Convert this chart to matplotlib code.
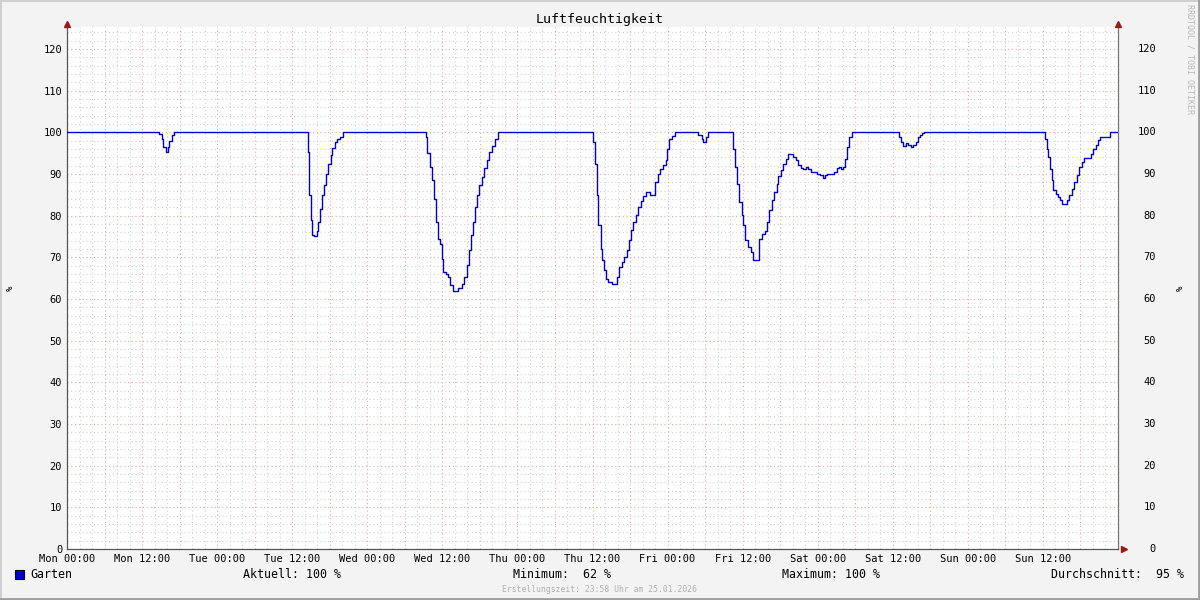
import numpy as np
import matplotlib.pyplot as plt
from matplotlib.patches import Rectangle

# hours since Mon 00:00 and relative humidity (%)
hours = [0, 14.6, 14.75, 15.14, 15.39, 15.78, 16.10, 16.35, 16.74, 17.15,
         38.32, 38.48, 38.64, 38.96, 39.21, 39.53, 39.91, 40.17, 40.44, 40.71,
         41.08, 41.35, 41.67, 42.15, 42.41, 42.84, 43.21, 43.64, 44.17,
         57.23, 57.39, 57.59, 58.02, 58.39, 58.71, 58.98, 59.35, 59.66, 59.89,
         60.15, 60.53, 60.95, 61.22, 61.75, 62.55, 63.09, 63.51, 63.89, 64.26,
         64.58, 64.95, 65.22, 65.58, 65.91, 66.29, 66.66, 67.09, 67.46, 67.98,
         68.41, 68.85,
         83.87, 84.13, 84.40, 84.67, 84.93, 85.31, 85.57, 85.84, 86.11, 86.53,
         87.07, 87.76, 87.96, 88.28, 88.67, 89.08, 89.47, 89.83, 90.15, 90.52,
         90.90, 91.32, 91.70, 92.12, 92.55, 93.19, 93.72, 93.99, 94.42, 94.79,
         95.32, 95.70, 95.96, 96.28, 96.76, 97.19,
         100.38, 100.91, 101.45, 101.71, 102.09, 102.51,
         106.25, 106.51, 106.78, 107.15, 107.47, 107.85, 108.11, 108.38, 108.90,
         109.34, 109.70, 110.50, 110.66, 111.05, 111.57, 111.94, 112.26, 112.64,
         113.01, 113.44, 113.70, 114.08, 114.50, 114.88, 115.30, 115.68, 116.10,
         116.53, 116.90, 117.33, 117.70, 118.08, 118.50, 118.88, 119.41, 119.84,
         120.36, 120.80, 121.16, 121.53, 122.23, 122.60, 123.03, 123.40, 123.67,
         124.09, 124.36, 124.63, 125.00, 125.43,
         132.88, 133.04, 133.31, 133.68, 134.11, 134.48, 134.86, 135.28, 135.66,
         135.98, 136.35, 136.72, 136.99,
         156.06, 156.33, 156.60, 156.86, 157.13, 157.40, 157.66, 158.04, 158.36,
         158.73, 159.00, 159.53, 159.90, 160.22, 160.60, 160.97, 161.40, 161.83,
         162.20, 162.57, 163.26, 163.64, 164.05, 164.48, 164.85, 165.12, 166.45,
         166.72, 168]
humidity = [100, 100, 99.7, 98.3, 96.5, 95.3, 96.5, 97.9, 99.4, 100,
            100, 95.4, 85, 79, 75.3, 75.1, 76.3, 78.5, 81.5, 85,
            87.4, 90, 92.5, 94.6, 96.2, 97.8, 98.5, 99, 100,
            100, 99, 95.1, 91.7, 88.5, 84.1, 78.5, 74.5, 73.3, 69.7,
            66.5, 66.1, 65.3, 63.3, 62, 62.7, 63.7, 65.3, 68.1, 71.7,
            75.3, 78.5, 82.1, 84.9, 87.3, 89.3, 91.4, 93.3, 95.3, 96.7,
            98.5, 100,
            100, 97.7, 92.5, 85, 77.7, 72.1, 69.3, 66.9, 64.7, 64,
            63.5, 63.5, 65.3, 67.7, 68.9, 70.1, 71.7, 74.1, 76.5, 78.5,
            80.1, 82.1, 83.5, 84.7, 85.7, 85, 85, 88.1, 90, 91.3,
            92.2, 93.3, 96.1, 98.5, 99.1, 100,
            100, 99.4, 98.3, 97.8, 99, 100,
            100, 96.1, 91.7, 87.7, 83.3, 80.1, 77.7, 74.1, 72.5,
            71.3, 69.3, 69.3, 74.5, 75.7, 76.3, 78.5, 81.3, 83.7,
            85.7, 87.7, 89.5, 90.9, 92.5, 93.7, 94.7, 94.7, 94.1,
            93.3, 92.2, 91.4, 91.3, 91.7, 91.3, 90.6, 90.5, 89.9,
            89.7, 89.1, 89.7, 89.9, 89.9, 90.5, 91.4, 91.7, 91.3,
            91.7, 93.7, 96.5, 98.9, 100,
            100, 98.9, 97.7, 96.7, 97.5, 97, 96.6, 96.9, 97.8,
            98.9, 99.3, 99.8, 100,
            100, 98.5, 96.1, 94.1, 91.3, 88.5, 86.1, 85.3, 84.5,
            83.7, 82.9, 82.9, 83.7, 84.9, 86.5, 88.1, 89.7, 91.7,
            92.9, 93.9, 93.9, 94.8, 96.1, 97, 98.1, 98.9, 98.9,
            100, 100]

day_names = ["Mon", "Tue", "Wed", "Thu", "Fri", "Sat", "Sun"]
tick_labels = [f"{d} {t}" for d in day_names for t in ("00:00", "12:00")]
y_ticks = list(range(0, 130, 10))

title = "Luftfeuchtigkeit"
legend_name = "Garten"
stats = [("Aktuell: 100 %", 243), ("Minimum:  62 %", 513),
         ("Maximum: 100 %", 782), ("Durchschnitt:  95 %", 1051)]
footer = "Erstellungszeit: 23:58 Uhr am 25.01.2026"

W, H = 1200, 600
plt.rcParams['font.family'] = "DejaVu Sans Mono"


def fx(x):
    return x / W


def fy(y):
    return 1 - y / H


fig = plt.figure(figsize=(12, 6), dpi=100, facecolor="#F3F3F3")

# 3d-ish frame of the canvas
fig.add_artist(plt.Line2D([0, 1], [fy(1), fy(1)], color="#D0D0D0", lw=1.5))
fig.add_artist(plt.Line2D([fx(1), fx(1)], [0, 1], color="#D0D0D0", lw=1.5))
fig.add_artist(plt.Line2D([0, 1], [fy(599), fy(599)], color="#9E9E9E", lw=2))
fig.add_artist(plt.Line2D([fx(1199), fx(1199)], [0, 1], color="#9E9E9E", lw=2))

left, right, bottom, top = 67, 1118, 549, 27
ax = fig.add_axes([fx(left), fy(bottom), fx(right - left), fy(top) - fy(bottom)])
ax.set_facecolor("white")

ymax = 125.3
ax.set_xlim(0, 168)
ax.set_ylim(0, ymax)

# grid: minor gray, major red, both dotted
dots = (0, (1, 2.4))
for h in np.arange(0, 169, 2):
    if h % 6 == 0:
        continue
    ax.axvline(h, color="#D2D2D2", lw=0.8, ls=dots, zorder=1)
for v in np.arange(0, 126, 2):
    if v % 10 == 0:
        continue
    ax.axhline(v, color="#D2D2D2", lw=0.8, ls=dots, zorder=1)
for h in np.arange(6, 168, 6):
    ax.axvline(h, color="#EFA8A8", lw=0.8, ls=dots, zorder=1.5)
for v in y_ticks[1:]:
    ax.axhline(v, color="#EFA8A8", lw=0.8, ls=dots, zorder=1.5)

ax.plot(hours, humidity, drawstyle="steps-post", color="#0000CC", lw=1.0, zorder=3)

ax.spines["top"].set_visible(False)
ax.spines["left"].set_color("#555555")
ax.spines["bottom"].set_color("#555555")
ax.spines["right"].set_color("#777777")
for s in ax.spines.values():
    s.set_linewidth(0.9)

ax.set_xticks(np.arange(0, 168, 12))
ax.set_xticklabels(tick_labels, fontsize=7.5)
ax.set_yticks(y_ticks)
ax.set_yticklabels([str(v) for v in y_ticks], fontsize=7.5)
ax.tick_params(length=0, pad=3.5, colors="#000000")

# right side labels, right aligned like rrdtool
for v in y_ticks:
    ax.text(1.0 + (1156 - right) / (right - left), v, str(v), transform=ax.get_yaxis_transform(),
            ha="right", va="center", fontsize=7.5)

# axis arrows
ax.plot([0], [ymax + 0.8], marker="^", ms=5, color="#A01818", clip_on=False, zorder=5)
ax.plot([168], [ymax + 0.8], marker="^", ms=5, color="#A01818", clip_on=False, zorder=5)
ax.plot([168.9], [0], marker=">", ms=5, color="#A01818", clip_on=False, zorder=5)

fig.text(fx(600), fy(19), title, ha="center", va="center", fontsize=9.5)
fig.text(fx(10), fy(288), "%", rotation=90, ha="center", va="center", fontsize=6.5)
fig.text(fx(1180), fy(288), "%", rotation=90, ha="center", va="center", fontsize=6.5)
fig.text(fx(1190), fy(4), "RRDTOOL / TOBI OETIKER", rotation=270, ha="center", va="top",
         fontsize=6.0, color="#B8B8B8")

# legend row
fig.add_artist(Rectangle((fx(15), fy(579)), fx(9), fy(570) - fy(579), transform=fig.transFigure,
                         facecolor="#0000CC", edgecolor="black", lw=0.8))
fig.text(fx(30), fy(575), legend_name, ha="left", va="center", fontsize=8.4)
for txt, xpos in stats:
    fig.text(fx(xpos), fy(575), txt, ha="left", va="center", fontsize=8.4)

fig.text(fx(600), fy(589), footer, ha="center", va="center", fontsize=5.8, color="#B0B0B0")

fig.savefig("out.png", dpi=100, facecolor=fig.get_facecolor())
